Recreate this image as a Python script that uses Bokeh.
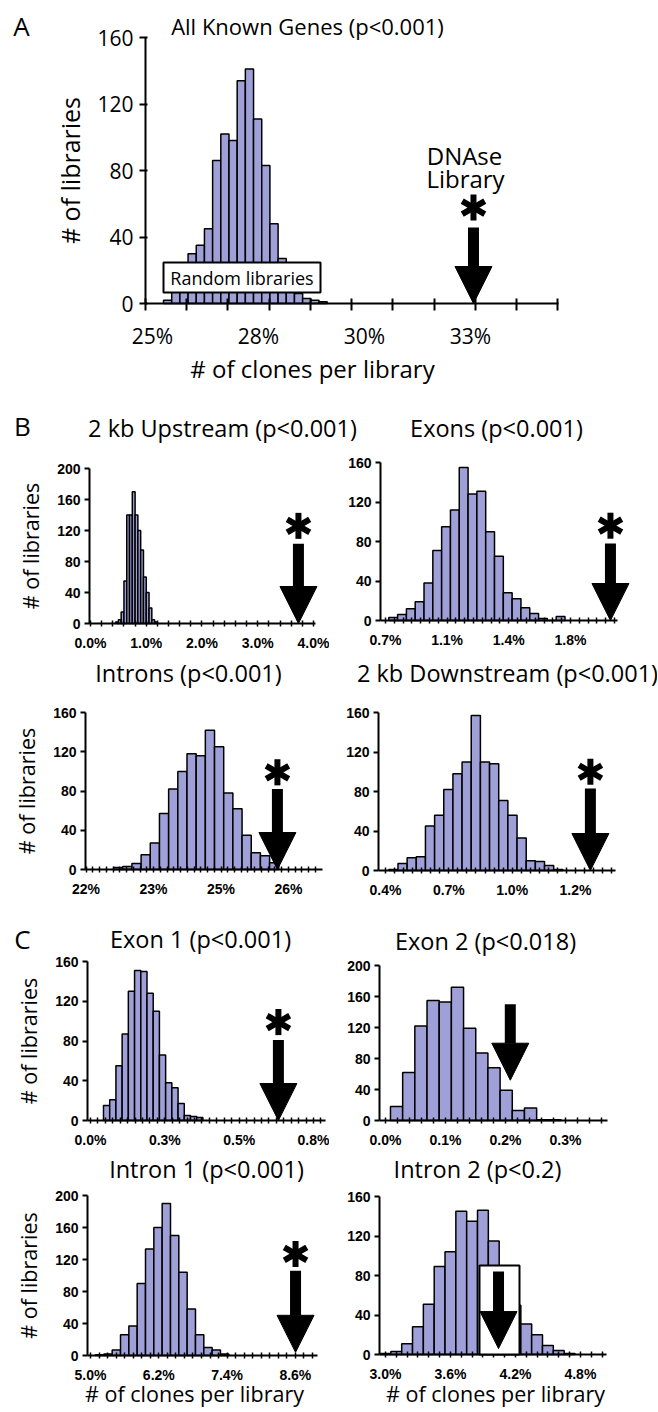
import numpy as np
from bokeh.plotting import figure
from bokeh.models import FixedTicker, Label, BoxAnnotation, Arrow, NormalHead, Range1d
from bokeh.layouts import column, row
from bokeh.embed import file_html
from bokeh.resources import INLINE

# ---------------- DATA ----------------
# A: All Known Genes
A_bin_start, A_bin_width = 25.26, 0.193
A_counts = [2, 10, 20, 30, 35, 45, 86, 102, 98, 134, 141, 111, 83, 48, 27, 15, 6, 3, 2, 1]
A_tick_at = [25.0, 27.5, 30.0, 32.5]
A_tick_text = ["25%", "28%", "30%", "33%"]
A_dnase = 32.57

# B: 2 kb Upstream
UP_bin_start, UP_bin_width = 0.45, 0.05
UP_counts = [2, 5, 15, 55, 140, 140, 170, 140, 120, 95, 60, 40, 20, 5, 2]
UP_tick_at = [0.0, 1.0, 2.0, 3.0, 4.0]
UP_tick_text = ["0.0%", "1.0%", "2.0%", "3.0%", "4.0%"]
UP_dnase = 3.73

# B: Exons
EX_bin_start, EX_bin_width = 0.719, 0.05
EX_counts = [3, 6, 12, 19, 38, 71, 95, 112, 155, 128, 131, 90, 65, 28, 22, 13, 7, 2, 0, 4]
EX_tick_at = [0.7, 1.05, 1.4, 1.75]
EX_tick_text = ["0.7%", "1.1%", "1.4%", "1.8%"]
EX_dnase = 1.977

# B: Introns
IN_bin_start, IN_bin_width = 22.51, 0.17
IN_counts = [2, 3, 6, 15, 27, 57, 82, 100, 118, 116, 142, 125, 78, 62, 35, 17, 14, 7]
IN_tick_at = [22.0, 23.25, 24.5, 25.75]
IN_tick_text = ["22%", "23%", "25%", "26%"]
IN_dnase = 25.545

# B: 2 kb Downstream
DN_bin_start, DN_bin_width = 0.4146, 0.0405
DN_counts = [1, 7, 13, 14, 45, 56, 82, 98, 110, 157, 110, 108, 71, 56, 33, 10, 9, 5, 1]
DN_tick_at = [0.4, 0.68, 0.96, 1.24]
DN_tick_text = ["0.4%", "0.7%", "1.0%", "1.2%"]
DN_dnase = 1.306

# C: Exon 1
E1_bin_start, E1_bin_width = 0.0437, 0.0209
E1_counts = [15, 21, 55, 87, 130, 151, 150, 128, 110, 66, 38, 33, 17, 5, 4, 3]
E1_tick_at = [0.0, 0.25, 0.5, 0.75]
E1_tick_text = ["0.0%", "0.3%", "0.5%", "0.8%"]
E1_dnase = 0.632

# C: Exon 2
E2_bin_start, E2_bin_width = 0.0083, 0.0203
E2_counts = [18, 62, 122, 155, 153, 172, 119, 87, 68, 39, 13, 16, 1, 1]
E2_tick_at = [0.0, 0.1, 0.2, 0.3]
E2_tick_text = ["0.0%", "0.1%", "0.2%", "0.3%"]
E2_dnase = 0.208

# C: Intron 1
I1_bin_start, I1_bin_width = 5.088, 0.1464
I1_counts = [1, 2, 7, 26, 37, 90, 133, 160, 190, 150, 104, 58, 26, 10, 7, 2]
I1_tick_at = [5.0, 6.2, 7.4, 8.6]
I1_tick_text = ["5.0%", "6.2%", "7.4%", "8.6%"]
I1_dnase = 8.603

# C: Intron 2
I2_bin_start, I2_bin_width = 2.95, 0.1
I2_counts = [1, 3, 11, 28, 51, 89, 104, 145, 135, 146, 115, 75, 50, 31, 20, 9, 4, 1]
I2_tick_at = [3.0, 3.6, 4.2, 4.8]
I2_tick_text = ["3.0%", "3.6%", "4.2%", "4.8%"]
I2_dnase = 4.044

FILL = "#a0a0d8"
TITLE_FONT = "Open Sans"
TICK_FONT = "Liberation Sans"
SUB = 23.5   # sub-panel title size


def px2data(G, xpx, ypx):
    fl, ft, fr, fb = G["frame"]
    x0, x1 = G["xr"]
    y0, y1 = G["yr"]
    return (x0 + (xpx - fl) / (fr - fl) * (x1 - x0),
            y0 + (fb - ypx) / (fb - ft) * (y1 - y0))


def text_at(p, G, xpx, ypx, txt, size, font=TITLE_FONT, style="normal"):
    x, y = px2data(G, xpx, ypx)
    p.add_layout(Label(x=x, y=y, text=txt, text_font=font, text_font_size=f"{size}px",
                       text_font_style=style, text_align="center", text_baseline="middle",
                       text_color="black"))


def base_fig(G, axes=True):
    fx0, fy0, fx1, fy1 = G["fig"]
    xs, ye = px2data(G, fx0, fy0)
    xe, ys = px2data(G, fx1, fy1)
    kw = {} if axes else dict(x_axis_location=None, y_axis_location=None)
    p = figure(width=fx1 - fx0, height=fy1 - fy0,
               x_range=Range1d(xs, xe), y_range=Range1d(ys, ye),
               output_backend="svg", toolbar_location=None, min_border=0, **kw)
    p.outline_line_color = None
    p.xgrid.visible = False
    p.ygrid.visible = False
    p.background_fill_color = "white"
    p.border_fill_color = "white"
    return p


def make_strip(y0, y1):
    G = dict(fig=(0, y0, W, y1), frame=(0, y0, W, y1), xr=(0, W), yr=(0, y1 - y0))
    return base_fig(G, axes=False), G


def make_panel(G, start, width, counts, tick_at, tick_text, minor, ystep, dnase,
               arrow_top, arrow_tip, star_y, big=False, ylabel=False, box=None):
    p = base_fig(G)
    lefts = start + width * np.arange(len(counts))
    p.quad(left=lefts, right=lefts + width, bottom=0, top=counts,
           fill_color=FILL, line_color="black", line_width=1.5)

    xa = p.xaxis[0]
    ya = p.yaxis[0]
    xa.fixed_location = G["yr"][0]
    xa.bounds = G["xr"]
    ya.fixed_location = G["xr"][0]
    ya.bounds = G["yr"]
    xa.ticker = FixedTicker(ticks=tick_at, minor_ticks=list(minor))
    xa.major_label_overrides = dict(zip(tick_at, tick_text))
    xa.major_tick_line_color = None
    xa.minor_tick_line_color = "black"
    ya.ticker = FixedTicker(ticks=list(range(0, int(G["yr"][1]) + 1, ystep)), minor_ticks=[])
    ya.minor_tick_line_color = None
    ya.major_tick_line_color = "black"
    for a in (xa, ya):
        a.major_label_text_color = "black"
        a.axis_line_color = "black"
        a.axis_line_width = 2
    if big:
        xa.minor_tick_in, xa.minor_tick_out, xa.minor_tick_line_width = 5, 7, 2
        xa.major_tick_in, xa.major_tick_out = 5, 7
        ya.major_tick_in, ya.major_tick_out, ya.major_tick_line_width = 2, 6, 2
        for a in (xa, ya):
            a.major_label_text_font = TITLE_FONT
            a.major_label_text_font_size = "21px"
        xa.major_label_standoff = 11
        ya.major_label_standoff = 6
    else:
        xa.minor_tick_in, xa.minor_tick_out, xa.minor_tick_line_width = 3, 3, 1.5
        xa.major_tick_in, xa.major_tick_out = 3, 3
        ya.major_tick_in, ya.major_tick_out, ya.major_tick_line_width = 0, 5, 2
        for a in (xa, ya):
            a.major_label_text_font = TICK_FONT
            a.major_label_text_font_size = "14px"
            a.major_label_text_font_style = "bold"
        xa.major_label_standoff = 8
        ya.major_label_standoff = 4
    if ylabel:
        ya.axis_label = "# of libraries"
        ya.axis_label_text_font = TITLE_FONT
        ya.axis_label_text_font_style = "normal"
        ya.axis_label_text_color = "black"
        ya.axis_label_text_font_size = "25px" if big else "21.5px"
        ya.axis_label_standoff = 7 if big else 9

    if box is not None:
        (bx0, by0), (bx1, by1) = box
        p.add_layout(BoxAnnotation(left=bx0, right=bx1, bottom=by0, top=by1, fill_color="white",
                                   fill_alpha=1, line_color="black", line_alpha=1, line_width=2))
    p.add_layout(Arrow(end=NormalHead(size=37, fill_color="black", line_color="black", line_width=1),
                       x_start=dnase, y_start=arrow_top, x_end=dnase, y_end=arrow_tip,
                       line_width=11, line_color="black"))
    if star_y is not None:
        p.scatter(x=[dnase] * 3, y=[star_y] * 3, marker="dash",
                  angle=[np.pi / 2, np.pi / 6, -np.pi / 6], size=26,
                  line_width=6, line_color="black")
    return p


# ---------------- geometry (page pixels) ----------------
W, H = 657, 1411
XM = 329
GA = dict(fig=(0, 0, W, 395), frame=(145, 37, 558, 303), xr=(24.835, 34.575), yr=(0, 160))
GB1 = dict(fig=(0, 445, XM, 655), frame=(89, 468, 315, 623), xr=(-0.018, 4.036), yr=(0, 200))
GB2 = dict(fig=(XM, 445, W, 655), frame=(380, 462, 617, 620), xr=(0.672, 2.017), yr=(0, 160))
GB3 = dict(fig=(0, 698, XM, 915), frame=(85, 712, 322, 869), xr=(21.99, 26.38), yr=(0, 160))
GB4 = dict(fig=(XM, 698, W, 915), frame=(378, 712, 615, 870), xr=(0.369, 1.417), yr=(0, 160))
GC1 = dict(fig=(0, 915, XM, 1153), frame=(87, 961, 325, 1120), xr=(-0.0101, 0.7904), yr=(0, 160))
GC2 = dict(fig=(XM, 915, W, 1153), frame=(379, 965, 607, 1120), xr=(-0.01, 0.37), yr=(0, 200))
GC3 = dict(fig=(0, 1153, XM, H), frame=(87, 1195, 317, 1355), xr=(4.947, 8.989), yr=(0, 200))
GC4 = dict(fig=(XM, 1153, W, H), frame=(379, 1196, 606, 1354), xr=(2.945, 5.041), yr=(0, 160))

# Panel A
boxA = (px2data(GA, 163, 292), px2data(GA, 320, 262))
pA = make_panel(GA, A_bin_start, A_bin_width, A_counts, A_tick_at, A_tick_text,
                24.835 + 0.972 * np.arange(11), 40, A_dnase, 45.7, 0, 57.7, big=True,
                ylabel=True, box=boxA)
text_at(pA, GA, 241.5, 277, "Random libraries", 18)
text_at(pA, GA, 21, 25, "A", 26)
text_at(pA, GA, 307, 25, "All Known Genes (p<0.001)", 22)
text_at(pA, GA, 464, 155, "DNAse", 24)
text_at(pA, GA, 465, 178, "Library", 24)
text_at(pA, GA, 312, 368, "# of clones per library", 24)

# Panel B - title strips
sB1, GS1 = make_strip(395, 445)
text_at(sB1, GS1, 22, 425, "B", 26)
text_at(sB1, GS1, 222, 427, "2 kb Upstream (p<0.001)", SUB)
text_at(sB1, GS1, 496, 427, "Exons (p<0.001)", SUB)

sB2, GS2 = make_strip(655, 698)
text_at(sB2, GS2, 188, 672, "Introns (p<0.001)", SUB)
text_at(sB2, GS2, 507, 672, "2 kb Downstream (p<0.001)", SUB)

pB1 = make_panel(GB1, UP_bin_start, UP_bin_width, UP_counts, UP_tick_at, UP_tick_text,
                 0.2 * np.arange(21), 40, UP_dnase, 103, 0, 126, ylabel=True)
pB2 = make_panel(GB2, EX_bin_start, EX_bin_width, EX_counts, EX_tick_at, EX_tick_text,
                 0.7 + 0.05 * np.arange(27), 40, EX_dnase, 78, 0, 96)
pB3 = make_panel(GB3, IN_bin_start, IN_bin_width, IN_counts, IN_tick_at, IN_tick_text,
                 22.0 + 0.125 * np.arange(35), 40, IN_dnase, 82, 0, 99, ylabel=True)
pB4 = make_panel(GB4, DN_bin_start, DN_bin_width, DN_counts, DN_tick_at, DN_tick_text,
                 0.4 + 0.04 * np.arange(26), 40, DN_dnase, 83, 0, 100)

# Panel C
pC1 = make_panel(GC1, E1_bin_start, E1_bin_width, E1_counts, E1_tick_at, E1_tick_text,
                 0.025 * np.arange(32), 40, E1_dnase, 81, 0, 99, ylabel=True)
text_at(pC1, GC1, 22, 938, "C", 26)
text_at(pC1, GC1, 200, 938, "Exon 1 (p<0.001)", SUB)

pC2 = make_panel(GC2, E2_bin_start, E2_bin_width, E2_counts, E2_tick_at, E2_tick_text,
                 0.02 * np.arange(19), 40, E2_dnase, 150, 52, None)
text_at(pC2, GC2, 485, 940, "Exon 2 (p<0.018)", SUB)

pC3 = make_panel(GC3, I1_bin_start, I1_bin_width, I1_counts, I1_tick_at, I1_tick_text,
                 5.0 + 0.15 * np.arange(27), 40, I1_dnase, 106, 4, 127, ylabel=True)
text_at(pC3, GC3, 206, 1168, "Intron 1 (p<0.001)", SUB)
text_at(pC3, GC3, 194, 1393, "# of clones per library", 21.5)

boxC4 = (px2data(GC4, 479, 1354), px2data(GC4, 519, 1265))
pC4 = make_panel(GC4, I2_bin_start, I2_bin_width, I2_counts, I2_tick_at, I2_tick_text,
                 3.0 + 0.1 * np.arange(21), 40, I2_dnase, 84, 6, None, box=boxC4)
text_at(pC4, GC4, 477, 1168, "Intron 2 (p<0.2)", SUB)
text_at(pC4, GC4, 495, 1393, "# of clones per library", 21.5)

layout = column(pA, sB1, row(pB1, pB2), sB2, row(pB3, pB4), row(pC1, pC2), row(pC3, pC4))
open("out.html", "w").write(file_html(layout, INLINE))
